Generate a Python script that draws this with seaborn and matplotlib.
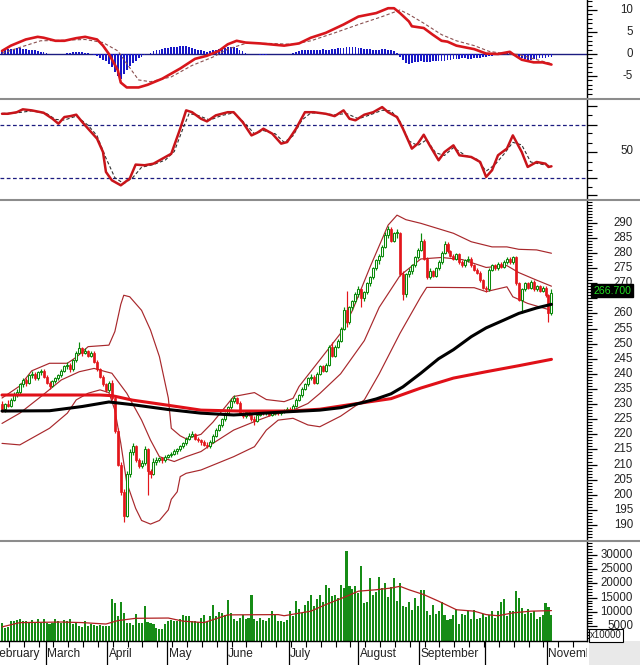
import numpy as np
import matplotlib
matplotlib.use("Agg")
import matplotlib.pyplot as plt
import matplotlib.transforms as mtrans
from matplotlib.lines import Line2D
from matplotlib.patches import Rectangle
from matplotlib.ticker import FixedLocator
import seaborn as sns

sns.set_theme(style="white")
plt.rcParams['font.family'] = ['Liberation Sans', 'DejaVu Sans']

# ---------------- data ----------------
open_ = [230.0,228.5,230.0,229.5,231.5,233.5,234.0,236.5,238.0,237.0,
         239.5,240.0,238.5,240.5,241.0,239.0,237.0,236.0,237.5,238.5,
         239.5,241.0,242.5,243.0,241.5,244.5,247.0,248.5,247.0,247.5,
         246.0,247.0,244.0,241.5,239.0,236.5,234.5,237.0,232.0,221.0,
         210.0,201.0,193.0,207.0,214.0,216.0,211.5,209.5,210.5,215.0,
         208.0,207.0,211.0,211.5,212.0,211.5,212.5,213.0,213.5,214.5,
         215.0,216.0,217.0,218.5,219.5,220.0,218.5,218.0,217.5,216.5,
         216.0,217.5,219.5,221.5,223.0,225.0,227.0,229.0,231.0,232.0,
         230.5,227.0,226.0,227.5,226.5,225.0,224.5,226.5,227.5,227.0,
         227.5,226.5,227.0,227.5,227.0,227.5,228.0,228.5,228.0,229.5,
         231.5,233.0,235.0,236.5,238.5,239.0,237.0,240.0,242.5,241.0,
         243.0,249.0,246.0,249.0,251.0,255.0,261.0,257.0,262.0,264.0,
         266.5,268.0,265.0,267.0,270.0,272.0,275.0,277.5,279.0,282.0,
         286.0,288.0,284.0,286.5,286.5,273.0,266.5,273.0,274.0,276.0,
         278.5,281.0,284.0,278.0,272.0,274.0,272.5,275.0,277.0,280.0,
         283.0,280.5,279.0,278.0,279.5,277.0,276.0,277.5,278.0,276.0,
         274.5,273.5,271.0,268.5,268.0,274.5,276.0,275.0,276.5,275.5,
         277.0,278.0,277.0,278.5,270.0,264.5,268.0,270.0,268.5,270.5,
         268.0,269.0,267.5,268.5,266.0,260.0]
close_ = [228.5,230.0,229.5,231.5,233.5,234.0,236.5,238.0,237.0,239.5,
          240.0,238.5,240.5,241.0,239.0,237.0,236.0,237.5,238.5,239.5,
          241.0,242.5,243.0,241.5,244.5,247.0,248.5,247.0,247.5,246.0,
          247.0,244.0,241.5,239.0,236.5,234.5,237.0,232.0,221.0,210.0,
          201.0,193.0,207.0,214.0,216.0,211.5,209.5,210.5,215.0,208.0,
          207.0,211.0,211.5,212.0,211.5,212.5,213.0,213.5,214.5,215.0,
          216.0,217.0,218.5,219.5,220.0,218.5,218.0,217.5,216.5,216.0,
          217.5,219.5,221.5,223.0,225.0,227.0,229.0,231.0,232.0,230.5,
          227.0,226.0,227.5,226.5,225.0,224.5,226.5,227.5,227.0,227.5,
          226.5,227.0,227.5,227.0,227.5,228.0,228.5,228.0,229.5,231.5,
          233.0,235.0,236.5,238.5,239.0,237.0,240.0,242.5,241.0,243.0,
          249.0,246.0,249.0,251.0,255.0,261.0,257.0,262.0,264.0,266.5,
          268.0,265.0,267.0,270.0,272.0,275.0,277.5,279.0,282.0,286.0,
          288.0,284.0,286.5,287.0,273.0,266.5,273.0,274.0,276.0,278.5,
          281.0,284.0,278.0,272.0,274.0,272.5,275.0,277.0,280.0,283.0,
          280.5,279.0,278.0,279.5,277.0,276.0,277.5,278.0,276.0,274.5,
          273.5,271.0,268.5,268.0,274.5,276.0,275.0,276.5,275.5,277.0,
          278.0,277.0,278.5,270.0,264.5,268.0,270.0,268.5,270.5,268.0,
          269.0,267.5,268.5,266.0,260.0,266.7]
high_ = [231.0,230.5,231.5,232.0,234.0,235.0,237.0,238.5,238.5,240.0,
         241.0,240.5,241.0,241.5,241.5,239.5,237.5,238.0,239.0,240.0,
         241.5,243.0,244.0,243.5,245.0,247.5,250.5,249.0,248.5,248.0,
         247.5,247.5,244.5,242.0,239.5,237.0,237.5,238.0,232.5,222.0,
         211.0,202.0,208.0,215.0,217.0,216.5,212.0,211.5,216.0,215.5,
         208.5,212.0,212.5,212.5,212.5,213.0,213.5,214.0,215.0,215.5,
         216.5,217.5,219.0,220.5,221.0,220.5,219.0,218.5,218.0,217.5,
         218.0,220.0,222.0,223.5,225.5,227.5,229.5,232.0,233.0,232.5,
         231.0,227.5,228.0,228.0,227.0,226.0,227.0,228.0,228.0,228.0,
         228.0,227.5,228.0,228.0,228.0,228.5,229.0,229.0,230.0,232.0,
         233.5,235.5,237.0,239.0,240.0,239.5,240.5,243.0,243.0,243.5,
         249.5,250.5,249.5,251.5,255.5,262.0,267.5,262.5,264.5,267.0,
         269.0,268.5,267.5,270.5,272.5,275.5,278.0,279.5,282.5,287.0,
         289.0,288.5,287.0,288.0,287.0,274.0,273.5,275.0,276.5,279.0,
         281.5,286.5,284.5,278.5,275.0,274.5,275.5,277.5,280.5,284.0,
         283.5,281.0,279.5,280.0,280.0,277.5,278.0,279.0,278.5,276.5,
         275.0,274.0,271.5,269.0,275.0,276.5,276.5,277.0,277.0,277.5,
         278.5,278.5,279.0,279.0,270.5,268.5,270.5,270.5,271.0,271.0,
         269.5,269.5,269.0,269.0,266.5,268.0]
low_ = [227.5,227.5,229.0,229.0,231.0,232.5,233.5,235.5,236.0,236.5,
        238.5,238.0,238.0,239.5,238.5,236.5,235.0,235.5,237.0,238.0,
        239.0,240.5,241.5,240.5,241.0,244.0,246.5,246.0,246.5,245.5,
        245.5,243.5,241.0,238.5,236.0,234.0,234.0,231.5,220.5,209.5,
        200.0,191.0,192.5,206.0,213.0,211.0,209.0,209.0,210.0,200.0,
        205.5,206.5,210.0,211.0,210.5,211.0,212.0,212.5,213.0,213.5,
        214.5,215.5,216.5,218.0,219.0,218.0,217.5,216.5,216.0,215.5,
        215.5,217.0,219.0,221.0,222.5,224.5,226.5,228.5,230.5,230.0,
        226.5,225.5,225.5,226.0,224.5,223.0,224.0,226.0,226.5,226.5,
        226.0,226.0,226.5,226.5,226.5,227.0,227.5,227.5,227.5,229.0,
        231.0,232.5,234.5,236.0,238.0,236.5,236.5,239.5,240.5,240.5,
        242.5,245.5,245.5,248.5,250.5,254.5,255.5,256.5,261.0,263.5,
        265.5,262.0,264.0,266.5,269.0,271.5,274.5,276.5,278.5,281.5,
        285.0,283.5,283.5,285.0,272.5,264.5,265.5,272.0,273.0,275.5,
        278.0,280.5,277.5,271.5,271.5,272.0,272.0,274.5,276.5,279.5,
        280.0,278.5,277.5,277.5,276.5,275.5,275.5,277.0,275.5,274.0,
        273.0,270.5,268.0,267.0,267.5,274.0,274.5,274.5,275.0,275.0,
        276.5,276.5,276.5,269.5,264.0,260.0,267.5,268.0,268.0,267.5,
        267.5,267.0,267.0,265.5,257.0,259.5]
volume = [6000,4500,4800,6800,7000,7200,7600,6800,7000,6500,7200,6600,7400,6200,
          7500,6000,5800,6200,7600,7000,6000,7200,6800,7400,5800,6500,5000,4800,6800,5000,5800,5600,5200,5600,5000,
          5200,5000,14500,13000,8500,13500,9500,6200,6000,5500,9300,6000,6200,12000,6500,6300,5800,4500,4200,4200,5800,
          7000,7200,6800,7000,7600,9000,8500,8500,6800,7000,6500,8000,9000,6500,8500,12500,8500,10000,9500,9000,
          14300,9500,7500,7000,8000,9000,7500,7800,16000,7500,6800,8000,7200,6800,8000,10300,9000,7000,6800,6600,7200,
          10300,8500,13800,11000,9500,12500,14000,16000,12000,14500,16000,13500,19500,18500,15500,16000,14800,19500,18500,31500,19000,18000,19000,
          16500,26000,13200,13500,21900,16000,17000,
          22400,18300,20000,15400,18800,21800,13700,20000,12100,11900,13600,10800,14800,12100,
          17700,17700,10500,8800,12500,9300,10500,13400,8800,7100,7400,8800,11100,5900,9300,8800,10200,7600,10800,7600,7800,9300,8400,8800,10200,8000,10300,13400,14600,8500,10200,10200,
          17500,14800,11300,9300,11100,9600,10200,7400,8400,8800,13200,11600,9100]
macd_hist = [1.0,1.1,1.1,1.2,1.2,1.3,1.3,1.2,1.1,1.0,0.9,
             0.8,0.7,0.5,0.4,0.2,0.0,-0.1,-0.1,-0.1,0.0,0.1,0.2,
             0.3,0.4,0.5,0.5,0.4,0.3,0.2,0.1,
             -0.2,-0.5,-0.9,-1.3,-1.7,
             -2.2,-3.0,-4.0,-5.0,-5.6,
             -4.6,-3.6,-2.8,-2.1,-1.5,-1.0,-0.6,
             -0.3,0.0,0.3,0.6,0.8,
             0.9,1.1,1.3,1.4,1.5,1.6,1.7,1.8,1.8,1.8,1.6,1.4,1.2,1.0,
             0.8,0.6,0.5,0.6,0.8,
             1.0,1.2,1.3,1.4,1.5,1.6,1.7,1.4,1.0,0.6,
             0.3,0.1,0.0,-0.1,-0.1,-0.2,-0.2,-0.2,-0.1,-0.1,-0.1,0.0,0.0,-0.1,0.0,0.1,0.2,
             0.4,0.6,0.8,0.9,1.0,1.0,0.9,0.9,1.0,1.1,1.0,1.0,1.1,1.2,1.3,1.3,1.4,1.5,1.6,1.6,
             1.5,1.4,1.3,1.2,1.2,1.1,1.0,1.0,1.0,1.1,1.1,1.0,0.9,0.6,0.3,
             -0.6,-1.4,-2.0,-2.2,-2.1,-1.9,-1.8,-1.7,
             -1.8,-1.9,-1.8,-1.6,-1.5,-1.6,-1.7,-1.6,-1.4,-1.3,-1.2,-1.2,-1.1,-1.0,-1.0,-1.1,-1.2,-1.0,-0.9,-0.8,-0.7,-0.6,-0.5,-0.4,-0.3,-0.2,
             0.0,0.1,0.2,0.2,0.1,
             -0.3,-0.7,-1.0,-1.2,-1.3,-1.3,-1.2,-1.1,-1.0,-0.9,-0.8,-0.7,-0.6]

macd_idx = [0,3,8,12,14,18,21,25,28,32,34,36,39,40,42,46,49,54,60,65,69,73,76,79,82,87,95,100,104,109,
            115,120,126,130,132,134,137,138,142,145,148,150,153,159,163,167,171,172,175,179,182,185]
macd_val = [0.7,1.9,3.3,3.9,3.7,3.0,3.0,3.6,3.9,3.3,1.9,0.0,-3.7,-6.5,-7.6,-7.6,-7.0,-5.6,-3.3,-1.1,
            -0.4,0.7,2.2,3.0,2.6,2.4,1.9,2.4,3.7,4.8,6.7,8.5,9.3,10.4,10.4,9.3,7.4,6.3,5.9,4.4,
            3.0,2.8,1.9,1.1,0.1,0.0,0.5,0.0,-1.3,-1.9,-1.9,-2.4]
signal_idx = [0,6,13,20,28,34,39,42,46,50,57,64,71,76,82,90,98,104,112,120,128,134,137,142,148,153,159,164,170,174,178,185]
signal_val = [0.15,1.5,3.0,3.1,3.3,2.6,0.7,-2.2,-5.9,-6.3,-5.2,-2.6,-0.7,1.1,2.4,2.4,2.2,3.0,4.8,6.7,
              8.5,10.0,9.0,7.0,4.4,3.0,1.9,0.6,0.0,-0.1,-0.9,-2.2]

rsi_idx = [0,2,5,7,10,14,17,19,21,23,25,27,29,32,34,35,37,40,43,45,48,51,54,57,60,62,64,67,69,72,
           76,78,81,84,86,88,91,94,96,99,102,105,109,112,115,117,119,122,125,128,130,133,135,138,140,
           142,144,147,149,152,154,158,161,163,165,167,170,172,175,177,180,183,184,185]
rsi_val = [78.8,78.8,80,82.2,81.4,79.6,75,71.2,76.3,77,78.1,72.5,67.4,59.8,49.6,34.4,28,24.2,29.3,40,
           39.5,40.7,44.5,48.3,67.4,81.4,80,75,73,77.6,80,80,72.5,62.3,64.4,67.4,63.6,56,57.2,67.4,
           80,80,78.8,77,81.4,75,73.8,78.1,80,83.9,80,76.3,67.4,52.2,56,62.8,54.7,43.3,49.6,54.7,
           47.1,45.8,42,30.6,35.7,47.1,52.2,62.3,49.6,38.2,42,40.7,38.2,38.7]
rsi_sig_idx = [0,5,10,15,18,21,25,29,32,35,38,41,44,47,51,55,58,61,63,66,70,74,78,82,85,88,92,95,98,101,
               104,108,112,116,120,124,128,131,134,137,140,143,146,149,152,156,160,163,166,169,172,175,178,181,185]
rsi_sig_val = [79,79.5,81,79,74.5,74,77,70,62,45,30,25.5,30,38,40,43.5,50,68,79,77.5,
               74,77.5,79.5,71,63.5,66,63.5,57,62,74,79.5,79,78,79,75,78,81.5,81,73,58,
               54.5,59,49,47,53,47,44,35,40,48,57,55,42,40.5,39]

ma_red_idx = [0,33,37,44,56,67,80,97,107,117,131,141,152,163,174,185]
ma_red_val = [233.0,233.0,232.8,231.3,229.6,228.0,227.7,227.7,228.3,229.8,231.8,235.3,238.6,240.7,242.7,244.8]
ma_blk_idx = [0,16,27,36,44,56,67,78,85,95,107,114,121,126,131,135,141,147,152,158,163,169,174,180,185]
ma_blk_val = [227.7,227.8,229.2,230.7,229.8,228.2,227.0,226.4,226.8,227.4,228.0,228.8,230.4,231.7,233.4,
              235.7,240.2,245.0,248.0,252.3,255.2,257.8,260.0,261.8,263.0]
bb_up_idx = [0,6,10,16,22,25,29,36,38,40,41,43,47,50,53,56,57,60,62,67,71,78,85,89,95,98,100,107,114,118,
             124,130,133,136,141,152,158,165,170,174,180,185]
bb_up_val = [232,236,241,243.5,243.5,245.5,249,249.5,254,263,266,265.5,261,254.5,245.7,232,222,219.5,218.5,220,
             224,232.5,233.8,231.5,230.8,231.9,235.8,244.6,253.4,261,275.5,289.2,292.5,291,289.8,286.5,283.7,
             282,282,281.2,281,279.9]
bb_mid_idx = [0,6,13,20,26,31,35,37,42,47,50,53,58,62,67,71,78,85,91,98,103,107,114,122,127,134,141,148,155,163,
              170,174,180,185]
bb_mid_val = [223.6,227,232.4,238,240.7,241.8,240.7,240.2,233.6,224.7,218.1,212.6,211,212.6,214.3,217,221.4,224.2,
              226.4,228,230.2,233.5,240,251,262,272.5,278,278.5,277.8,275.2,275.8,273.5,271,269]
bb_lo_idx = [0,6,10,16,22,25,29,33,36,38,40,42,45,47,50,53,56,57,59,60,62,67,71,78,85,89,93,98,103,107,114,122,
             127,134,141,143,147,159,163,170,172,177,185]
bb_lo_val = [217,216.5,218.7,222,227,231.4,233.6,234.7,233.8,228,217,204,195.5,191.5,190.3,191.5,195,198.5,201,206,
             207.1,208.2,209.8,212.6,215.9,221.4,224.7,225.3,223.1,222.5,226,231.4,240,253.4,265.5,268.6,268.6,
             268.5,267.2,268.8,265.5,263.3,261]
vol_ma_idx = [0,6,20,27,35,39,45,56,61,68,71,76,93,95,104,109,116,120,126,131,134,137,142,147,153,159,163,167,172,178,185]
vol_ma_val = [4800,6300,6500,6300,5800,7000,7800,7900,6800,6300,7300,9000,9100,8700,10300,12600,15500,17300,17800,
              18400,19000,17800,16100,13800,10800,10300,9100,8700,9700,10300,10500]

month_names = ["February", "March", "April", "May", "June", "July", "August", "September", "November"]
month_pos = [-3.7, 14.7, 35.4, 55.6, 75.6, 96.5, 119.9, 140.4, 183.5]
last_price_label = "266.700"

n = len(close_)
assert len(open_) == n and len(high_) == n and len(low_) == n and len(volume) == n and len(macd_hist) == n

# ---------------- figure layout (pixel based) ----------------
W, H = 640, 665
fig = plt.figure(figsize=(W / 100, H / 100), dpi=100)
fig.patch.set_facecolor("white")


def panel(x0, y0, x1, y1):
    return fig.add_axes([x0 / W, 1 - y1 / H, (x1 - x0) / W, (y1 - y0) / H])


ax_m = panel(0, 0, 587, 98)
ax_r = panel(0, 100, 587, 199)
ax_p = panel(0, 201, 587, 540)
ax_v = panel(0, 542, 587, 640.6)
ax_l = panel(0, 640.6, 587, 665)

XL = (-2 / 2.97, 585 / 2.97)
GREEN = "#0b8a0b"
VGREEN = "#168c16"
RED = "#e3161b"
BAND = "#a8282c"
NAVY = "#1c1c80"
BLUE = "#1818c8"

idx = np.arange(n)
o = np.array(open_); c = np.array(close_); h = np.array(high_); lo = np.array(low_)
up = c >= o

# ---------------- price panel ----------------
for xi_, yi_ in [(bb_up_idx, bb_up_val), (bb_mid_idx, bb_mid_val), (bb_lo_idx, bb_lo_val)]:
    sns.lineplot(x=xi_, y=yi_, color=BAND, linewidth=0.85, ax=ax_p, zorder=2)

ax_p.vlines(idx[up], lo[up], h[up], color=GREEN, linewidth=0.85, zorder=3)
ax_p.vlines(idx[~up], lo[~up], h[~up], color=RED, linewidth=0.85, zorder=3)
ax_p.bar(idx[up], (c - o)[up], bottom=o[up], width=0.68, facecolor="white",
         edgecolor=GREEN, linewidth=0.75, zorder=4)
ax_p.bar(idx[~up], (c - o)[~up], bottom=o[~up], width=0.68, facecolor=RED,
         edgecolor=RED, linewidth=0.5, zorder=4)

sns.lineplot(x=ma_red_idx, y=ma_red_val, color="#e01018", linewidth=2.2, ax=ax_p, zorder=5)
sns.lineplot(x=ma_blk_idx, y=ma_blk_val, color="black", linewidth=2.2, ax=ax_p, zorder=5)
ax_p.set_ylim(185.04, 297.18)

# ---------------- volume panel ----------------
sns.barplot(x=idx, y=volume, native_scale=True, color=VGREEN, saturation=1, width=0.7,
            errorbar=None, linewidth=0, ax=ax_v, zorder=2)
sns.lineplot(x=vol_ma_idx, y=vol_ma_val, color="#b02020", linewidth=0.9, ax=ax_v, zorder=3)
ax_v.set_ylim(0, 34510)

# ---------------- MACD panel ----------------
sns.barplot(x=idx, y=macd_hist, native_scale=True, color=BLUE, saturation=1, width=0.6,
            errorbar=None, linewidth=0, ax=ax_m, zorder=2)
ax_m.axhline(0, color=NAVY, linewidth=1.0, zorder=1)
sns.lineplot(x=signal_idx, y=signal_val, color="#8a5050", linewidth=0.8, linestyle=(0, (3, 2)), ax=ax_m, zorder=3)
sns.lineplot(x=macd_idx, y=macd_val, color="#d8161c", linewidth=1.9, ax=ax_m, zorder=4)
ax_m.set_ylim(-10.0, 12.27)

# ---------------- RSI panel ----------------
ax_r.axhline(70, color=NAVY, linewidth=0.9, linestyle=(0, (3, 2)), zorder=1)
ax_r.axhline(30, color=NAVY, linewidth=0.9, linestyle=(0, (3, 2)), zorder=1)
sns.lineplot(x=rsi_sig_idx, y=rsi_sig_val, color="#303030", linewidth=0.8, linestyle=(0, (3, 2)), ax=ax_r, zorder=2)
sns.lineplot(x=rsi_idx, y=rsi_val, color="#c8141a", linewidth=1.8, ax=ax_r, zorder=3)
ax_r.set_ylim(50 - 47.5 / 1.31, 50 + 51.5 / 1.31)

# ---------------- axes styling ----------------
LABX = 633 / 587


def style(ax, major, minor, labels):
    for s in ["top", "left", "bottom"]:
        ax.spines[s].set_visible(False)
    ax.spines["right"].set_visible(True)
    ax.spines["right"].set_color("black")
    ax.spines["right"].set_linewidth(1.0)
    ax.set_facecolor("white")
    ax.set_xlim(*XL)
    ax.set_xlabel("")
    ax.set_ylabel("")
    ax.yaxis.tick_right()
    ax.yaxis.set_major_locator(FixedLocator(major))
    ax.yaxis.set_minor_locator(FixedLocator(minor))
    ax.tick_params(axis="y", which="major", length=7, width=0.9, direction="out",
                   colors="black", labelright=False, labelleft=False, right=True, left=False)
    ax.tick_params(axis="y", which="minor", length=3.5, width=0.8, direction="out",
                   colors="black", right=True, left=False)
    tr = mtrans.blended_transform_factory(ax.transAxes, ax.transData)
    for v, s in labels:
        ax.text(LABX, v, s, transform=tr, ha="right", va="center", fontsize=8.3,
                color="#222222", clip_on=False)
    ax.grid(False)


# the 265 label is fully hidden behind the last-price box in the reference
style(ax_p, list(range(190, 295, 5)), list(range(186, 298)),
      [(v, str(v)) for v in range(190, 295, 5) if v != 265])
style(ax_v, list(range(5000, 35000, 5000)), list(range(1000, 35000, 1000)),
      [(v, str(v)) for v in range(5000, 35000, 5000)])
style(ax_m, [-5, 0, 5, 10], list(range(-9, 13)),
      [(v, str(v)) for v in [-5, 0, 5, 10]])
rsi_major = [16.8, 30, 50, 70, 85]
rsi_minor = [23.1, 35.9, 42.2, 56.3, 63.9, 77.9]
style(ax_r, rsi_major, rsi_minor, [(50, "50")])

for ax in (ax_p, ax_m, ax_r):
    ax.set_xticks([])

# x axis of the volume panel
ax_v.spines["bottom"].set_visible(True)
ax_v.spines["bottom"].set_color("black")
ax_v.spines["bottom"].set_linewidth(1.0)
ax_v.xaxis.set_major_locator(FixedLocator(month_pos + [162.5]))
ax_v.xaxis.set_minor_locator(FixedLocator(list(np.arange(2.3, 197, 5.0))))
ax_v.tick_params(axis="x", which="major", length=17.6, width=0.9, direction="out",
                 colors="black", labelbottom=False, bottom=True)
ax_v.tick_params(axis="x", which="minor", length=4, width=0.8, direction="out",
                 colors="black", bottom=True)
ax_v.set_xlim(*XL)

# month labels strip
ax_l.set_xlim(*XL)
ax_l.set_ylim(0, 1)
ax_l.axis("off")
for name, pos in zip(month_names, month_pos):
    ax_l.text(pos + 0.5, 0.47, name, ha="left", va="center", fontsize=8.6,
              color="#222222", clip_on=True)

# panel separators
for yy in (99, 200, 541):
    fig.add_artist(Line2D([0, 1], [1 - yy / H, 1 - yy / H], color="#8c8c8c",
                          linewidth=1.5, transform=fig.transFigure))

# grey corner under the right axis
fig.add_artist(Rectangle((589 / W, 0), 51 / W, 24 / H, transform=fig.transFigure,
                         facecolor="#e9e9e9", edgecolor="none", zorder=0))

# last price box
fig.text(612 / W, 1 - 290.5 / H, last_price_label, ha="center", va="center", fontsize=7.6,
         color="#22dd22", zorder=10,
         bbox=dict(boxstyle="square,pad=0.18", facecolor="black", edgecolor="black"))
# volume multiplier box
fig.text(606 / W, 1 - 635.5 / H, "x10000", ha="center", va="center", fontsize=7.0,
         color="#222222", zorder=10,
         bbox=dict(boxstyle="square,pad=0.15", facecolor="white", edgecolor="black", linewidth=0.8))

fig.savefig("out.png", dpi=100, facecolor="white")
